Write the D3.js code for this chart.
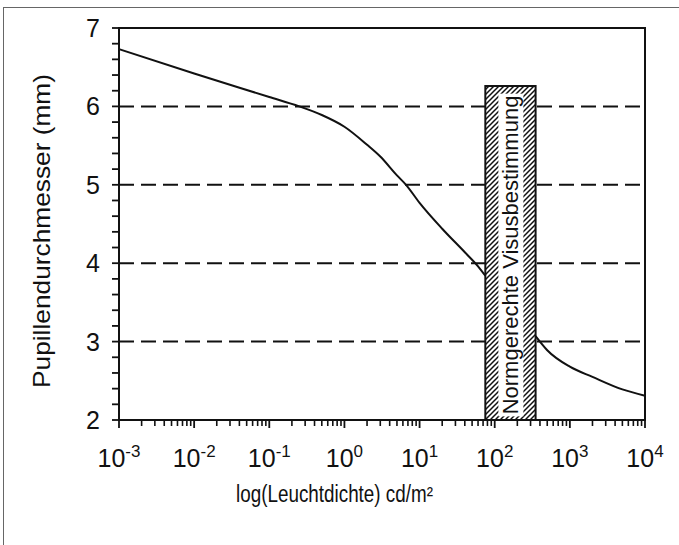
<!DOCTYPE html>
<html>
<head>
<meta charset="utf-8">
<script src="https://cdn.jsdelivr.net/npm/d3@7"></script>
<style>
html,body{margin:0;padding:0;background:#fff;}
svg{display:block;}
text{font-family:"Liberation Sans",Arial,Helvetica,sans-serif;fill:#111;}
</style>
</head>
<body>
<svg id="chart" width="679" height="545"></svg>
<script>
// ---- data ----
const curveLowLum = [0.001, 0.01, 0.1, 0.25, 0.5, 1, 2, 3, 5, 6.6, 10, 20, 40, 60, 75];
const curveLowPupil = [6.73, 6.42, 6.12, 6.00, 5.89, 5.74, 5.51, 5.36, 5.12, 5.00, 4.77, 4.44, 4.14, 3.96, 3.84];
const curveHighLum = [350, 500, 1000, 2000, 5000, 10000];
const curveHighPupil = [3.07, 2.89, 2.68, 2.55, 2.39, 2.31];
const bandLum = [75, 350];
const bandTop = 6.26;
const bandLabel = "Normgerechte Visusbestimmung";
const gridValues = [3, 4, 5, 6];
const yTicks = [2, 3, 4, 5, 6, 7];
const xTickExponents = [-3, -2, -1, 0, 1, 2, 3, 4];
const xTitle = "log(Leuchtdichte) cd/m²";
const yTitle = "Pupillendurchmesser (mm)";

// ---- layout ----
const svg = d3.select("#chart");
const L = 119, T = 28, R = 645, B = 420;
const x = d3.scaleLog().domain([1e-3, 1e4]).range([L, R]);
const y = d3.scaleLinear().domain([2, 7]).range([B, T]);

// outer frame
svg.append("rect").attr("x", 3.5).attr("y", 7.5).attr("width", 700).attr("height", 600)
  .attr("fill", "#fff").attr("stroke", "#666").attr("stroke-width", 1);

// hatch pattern
const defs = svg.append("defs");
const pat = defs.append("pattern").attr("id", "hatch").attr("patternUnits", "userSpaceOnUse")
  .attr("width", 5).attr("height", 5);
pat.append("rect").attr("width", 5).attr("height", 5).attr("fill", "#fff");
pat.append("path").attr("d", "M-1,1 l2,-2 M0,5 l5,-5 M4,6 l2,-2")
  .attr("stroke", "#111").attr("stroke-width", 1.5);

// dashed grid lines
svg.append("g").selectAll("line").data(gridValues).join("line")
  .attr("x1", L).attr("x2", R).attr("y1", d => y(d)).attr("y2", d => y(d))
  .attr("stroke", "#111").attr("stroke-width", 2).attr("stroke-dasharray", "15,7");

// curves
const line = d3.line().x(d => x(d[0])).y(d => y(d[1])).curve(d3.curveMonotoneX);
svg.append("path").datum(d3.zip(curveLowLum, curveLowPupil)).attr("d", line)
  .attr("fill", "none").attr("stroke", "#111").attr("stroke-width", 2);
svg.append("path").datum(d3.zip(curveHighLum, curveHighPupil)).attr("d", line)
  .attr("fill", "none").attr("stroke", "#111").attr("stroke-width", 2);

// band
const bx0 = x(bandLum[0]), bx1 = x(bandLum[1]), by0 = y(bandTop), by1 = y(2);
svg.append("rect").attr("x", bx0).attr("y", by0).attr("width", bx1 - bx0).attr("height", by1 - by0)
  .attr("fill", "url(#hatch)").attr("stroke", "#111").attr("stroke-width", 2);
const bcx = (bx0 + bx1) / 2, bcy = (by0 + by1) / 2 + 2;
const bandG = svg.append("g").attr("transform", `translate(${bcx},${bcy}) rotate(-90)`);
const bandBg = bandG.append("rect").attr("fill", "#fff");
const bandText = bandG.append("text").attr("text-anchor", "middle").attr("dy", "0.36em")
  .style("font-size", "22px").text(bandLabel);
const bb = bandText.node().getBBox();
bandBg.attr("x", bb.x - 2).attr("y", bb.y).attr("width", bb.width + 4).attr("height", bb.height);

// axes
const xAxisG = svg.append("g").attr("transform", `translate(0,${B})`);
const minorX = [];
for (let e = -3; e < 4; e++) for (let m = 2; m <= 9; m++) minorX.push(m * Math.pow(10, e));
xAxisG.selectAll("line.minor").data(minorX).join("line").attr("class", "minor")
  .attr("x1", d => x(d)).attr("x2", d => x(d)).attr("y1", 0).attr("y2", 6)
  .attr("stroke", "#111").attr("stroke-width", 1.6);
xAxisG.selectAll("line.major").data(xTickExponents).join("line").attr("class", "major")
  .attr("x1", d => x(Math.pow(10, d))).attr("x2", d => x(Math.pow(10, d))).attr("y1", 0).attr("y2", 8)
  .attr("stroke", "#111").attr("stroke-width", 1.8);
const xl = xAxisG.selectAll("text").data(xTickExponents).join("text")
  .attr("x", d => x(Math.pow(10, d))).attr("y", 47).attr("text-anchor", "middle")
  .style("font-size", "25px");
xl.append("tspan").text("10");
xl.append("tspan").attr("dy", -10).style("font-size", "17px").text(d => String(d));

const yAxisG = svg.append("g").attr("transform", `translate(${L},0)`);
const minorY = d3.range(2, 7.001, 0.2);
yAxisG.selectAll("line").data(minorY).join("line")
  .attr("x1", -7).attr("x2", 0).attr("y1", d => y(d)).attr("y2", d => y(d))
  .attr("stroke", "#111").attr("stroke-width", 1.8);
yAxisG.selectAll("text").data(yTicks).join("text")
  .attr("x", -19).attr("y", d => y(d)).attr("dy", "0.36em").attr("text-anchor", "end")
  .style("font-size", "25px").text(d => d);

// plot frame
svg.append("rect").attr("x", L).attr("y", T).attr("width", R - L).attr("height", B - T)
  .attr("fill", "none").attr("stroke", "#111").attr("stroke-width", 2);

// titles
svg.append("text").attr("x", 236).attr("y", 502).attr("text-anchor", "start")
  .attr("textLength", 197).attr("lengthAdjust", "spacingAndGlyphs")
  .style("font-size", "23px").text(xTitle);
svg.append("text").attr("transform", `translate(50,${(T + B) / 2 + 7}) rotate(-90)`)
  .attr("text-anchor", "middle").attr("textLength", 314).attr("lengthAdjust", "spacingAndGlyphs")
  .style("font-size", "24px").text(yTitle);
</script>
</body>
</html>
